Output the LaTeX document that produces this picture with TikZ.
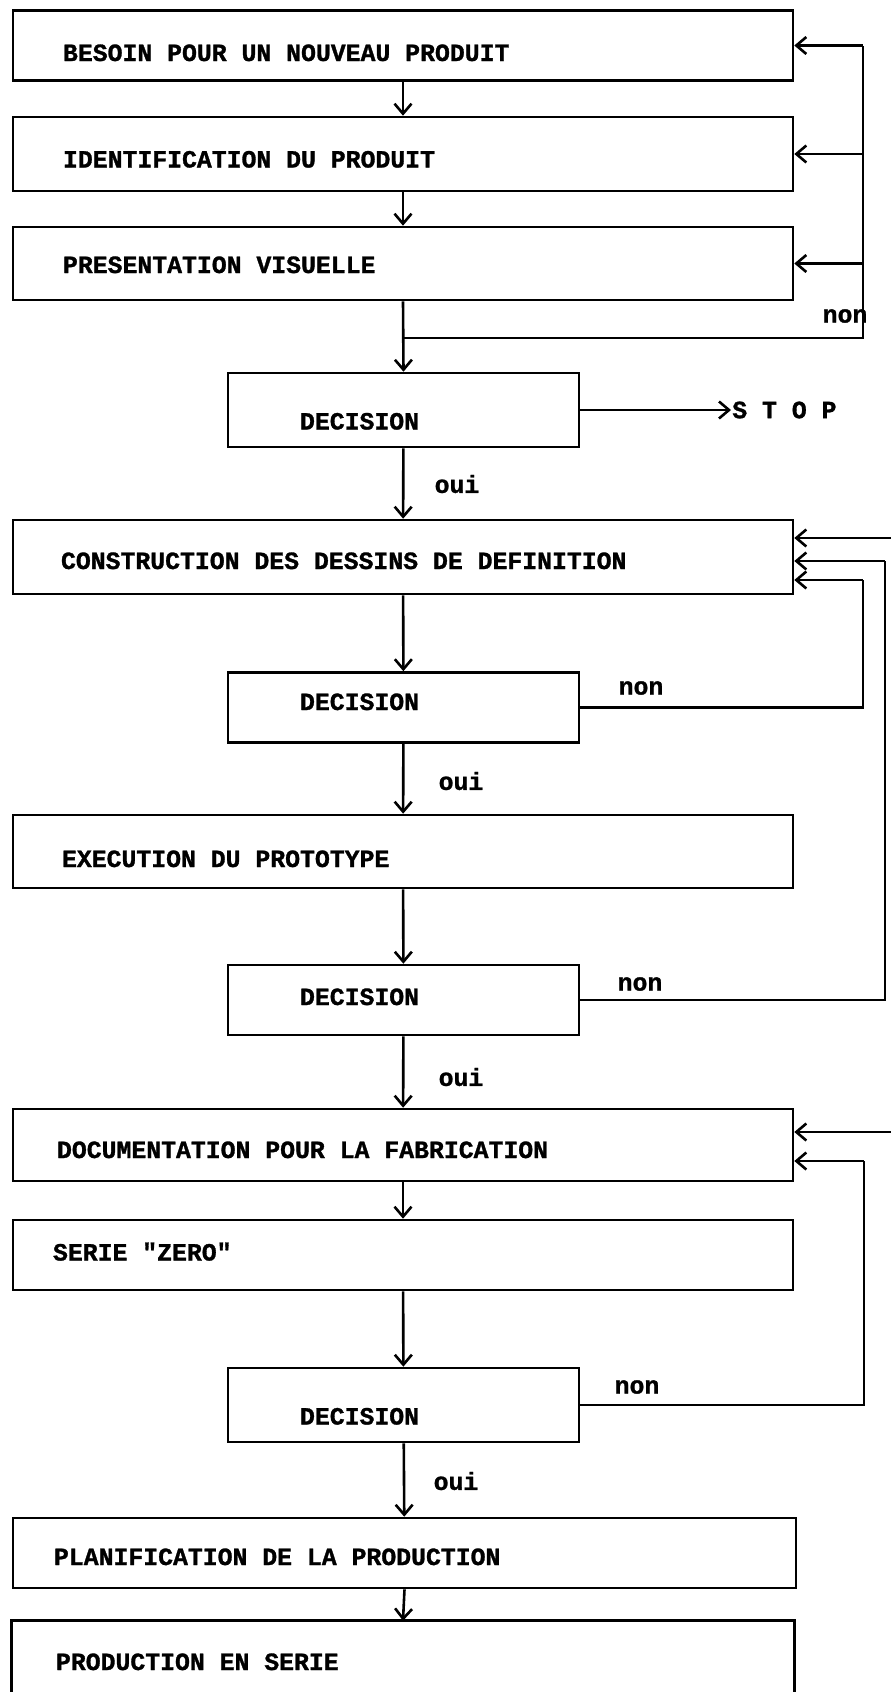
\documentclass[tikz,border=0pt]{standalone}
\usepackage{fontspec}
\setmonofont{Liberation Mono}[BoldFeatures={FakeBold=1.2}]
\usetikzlibrary{arrows.meta}
\begin{document}
\begin{tikzpicture}[x=1pt,y=-1pt,line width=2.6pt,
  font=\fontsize{24.8}{28}\selectfont\ttfamily\bfseries,
  box/.style={draw,rectangle,inner xsep=#1,inner ysep=0pt,text width=780pt-2*#1,align=flush left,text depth=0pt},
  dec/.style={draw,rectangle,inner xsep=72pt,inner ysep=0pt,text width=207pt,align=flush left,text depth=0pt},
  arr/.style={-{Straight Barb[length=10pt,width=17pt]}},
  lbl/.style={inner sep=0pt}]
\useasboundingbox (0,0) rectangle (891,1692);
% boxes
\node[box=50pt,minimum height=70pt,text height=31pt] (b1) at (403,45.5) {BESOIN POUR UN NOUVEAU PRODUIT};
\node[box=50pt,minimum height=74pt,text height=27pt] (b2) at (403,154) {IDENTIFICATION DU PRODUIT};
\node[box=50pt,minimum height=73pt,text height=19pt] (b3) at (403,263.5) {PRESENTATION VISUELLE};
\node[dec,minimum height=74pt,text height=39pt] (d1) at (403.5,410) {DECISION};
\node[box=48pt,minimum height=74pt,text height=24pt] (b4) at (403,557) {CONSTRUCTION DES DESSINS DE DEFINITION};
\node[dec,minimum height=70pt,text height=5pt] (d2) at (403.5,707.5) {DECISION};
\node[box=49pt,minimum height=73pt,text height=31pt] (b5) at (403,851.5) {EXECUTION DU PROTOTYPE};
\node[dec,minimum height=70pt,text height=10pt] (d3) at (403.5,1000) {DECISION};
\node[box=44pt,minimum height=72pt,text height=26pt] (b6) at (403,1145) {DOCUMENTATION POUR LA FABRICATION};
\node[box=40pt,minimum height=70pt,text height=11pt] (b7) at (403,1255) {SERIE "ZERO"};
\node[dec,minimum height=74pt,text height=39pt] (d4) at (403.5,1405) {DECISION};
\node[box=41pt,minimum height=70pt,text height=24pt,text width=701pt] (b8) at (404.5,1553) {PLANIFICATION DE LA PRODUCTION};
\node[box=43pt,draw=none,minimum height=80pt,text height=16pt] (b9) at (403,1662) {PRODUCTION EN SERIE};
\draw (b9.south west) -- (b9.north west) -- (b9.north east) -- (b9.south east);
% labels
\node[lbl,anchor=west] (stop) at (731,410) {S T O P};
\node[lbl] (o1) at (457,484) {oui};
\node[lbl] (o2) at (461,781) {oui};
\node[lbl] (o3) at (461,1077) {oui};
\node[lbl] (o4) at (456,1481) {oui};
\node[lbl] (n1) at (845,316) {non};
\node[lbl] (n2) at (641,688) {non};
\node[lbl] (n3) at (640,984) {non};
\node[lbl] (n4) at (637,1387) {non};
% coordinates
\coordinate (j1) at (404,338);
\coordinate (r1) at (863,338);
\coordinate (r1a) at (863,45.5);
\coordinate (r1b) at (863,154);
\coordinate (r1c) at (863,263.5);
\coordinate (e1) at (891,538);
\coordinate (r2) at (863,707.5);
\coordinate (r2a) at (863,580);
\coordinate (r3) at (885,1000);
\coordinate (r3a) at (885,561);
\coordinate (e2) at (891,1132);
\coordinate (r4) at (864,1405);
\coordinate (r4a) at (864,1161);
% main flow
\draw[arr] (b1) -- (b2);
\draw[arr] (b2) -- (b3);
\draw[arr] (b3.south) -- (d1.north);
\draw[arr] (d1.east) -- (stop.west);
\draw[arr] (d1) -- (b4);
\draw[arr] (b4) -- (d2);
\draw[arr] (d2) -- (b5);
\draw[arr] (b5) -- (d3);
\draw[arr] (d3) -- (b6);
\draw[arr] (b6) -- (b7);
\draw[arr] (b7) -- (d4);
\draw[arr] (d4) -- (b8);
\draw[arr] (b8.south) -- (b9.north);
% feedback loops
\draw (j1) -- (r1) -- (r1a);
\draw[arr] (r1a) -- (b1.east);
\draw[arr] (r1b) -- (b2.east);
\draw[arr] (r1c) -- (b3.east);
\draw[arr] (e1) -- ([yshift=19pt]b4.east);
\draw (d2.east) -- (r2) -- (r2a);
\draw[arr] (r2a) -- ([yshift=-23pt]b4.east);
\draw (d3.east) -- (r3) -- (r3a);
\draw[arr] (r3a) -- ([yshift=-4pt]b4.east);
\draw[arr] (e2) -- ([yshift=13pt]b6.east);
\draw (d4.east) -- (r4) -- (r4a);
\draw[arr] (r4a) -- ([yshift=-16pt]b6.east);
\end{tikzpicture}
\end{document}
